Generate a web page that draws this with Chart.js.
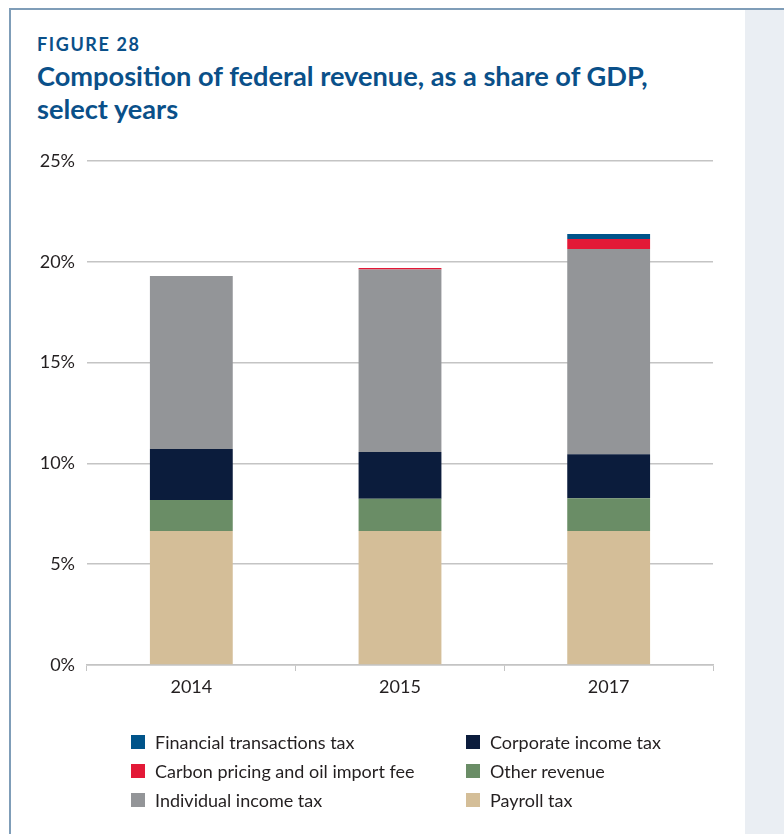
<!DOCTYPE html>
<html>
<head>
<meta charset="utf-8">
<script src="https://cdn.jsdelivr.net/npm/chart.js@4"></script>
<style>
  body { margin: 0; background: #fff; font-family: Lato, "Open Sans", sans-serif; }
  #page { position: relative; width: 784px; height: 834px; overflow: hidden; }
  #frame { position: absolute; left: 9px; top: 8px; right: 0; bottom: 0;
           border-top: 2px solid #7f9db8; border-left: 2px solid #7f9db8; }
  #side { position: absolute; left: 745px; top: 10px; width: 39px; bottom: 0; background: #eaeef3; }
  .fig { position: absolute; left: 37px; top: 33px; font-size: 18px; line-height: 22px;
         font-weight: 700; letter-spacing: 1.6px; color: #0a5089; }
  .title { position: absolute; left: 37px; top: 59px; font-size: 27.2px; line-height: 33px;
           font-weight: 700; color: #0a5089; }
  #chartjs { position: absolute; left: 0; top: 0; }
  #legend { position: absolute; left: 131px; top: 727px; display: grid;
            grid-template-columns: 335px auto; grid-auto-rows: 29px; }
  .item { display: flex; align-items: center; font-size: 18px; color: #231f20; }
  .box { width: 14px; height: 14px; margin-right: 10px; flex: none; }
</style>
</head>
<body>
<div id="page">
  <div id="frame"></div>
  <div id="side"></div>
  <div class="fig">FIGURE 28</div>
  <div class="title">Composition of federal revenue, as a share of GDP,<br>select years</div>
  <canvas id="chartjs" width="784" height="834"></canvas>
  <div id="legend"></div>
</div>
<script>
// percent of GDP by revenue source
var years = ["2014", "2015", "2017"];
var payrollTax = [6.65, 6.65, 6.65];
var otherRevenue = [1.54, 1.60, 1.62];
var corporateTax = [2.53, 2.32, 2.18];
var individualTax = [8.58, 9.05, 10.18];
var carbonFee = [0, 0.07, 0.50];
var financialTax = [0, 0, 0.25];
var yTicks = [0, 5, 10, 15, 20, 25];

// bottom of the stack first
var series = [
    { label: "Payroll tax", data: payrollTax, color: "#d4be98" },
    { label: "Other revenue", data: otherRevenue, color: "#6a8d66" },
    { label: "Corporate income tax", data: corporateTax, color: "#0b1c3c" },
    { label: "Individual income tax", data: individualTax, color: "#939598" },
    { label: "Carbon pricing and oil import fee", data: carbonFee, color: "#e31937" },
    { label: "Financial transactions tax", data: financialTax, color: "#00548a" }
];

// legend order, two columns
var legendOrder = [
    "Financial transactions tax", "Corporate income tax",
    "Carbon pricing and oil import fee", "Other revenue",
    "Individual income tax", "Payroll tax"
];

var ctx = document.getElementById("chartjs").getContext("2d");

var chartData = {
    labels: years,
    datasets: series.map(function (s) {
        return {
            label: s.label,
            data: s.data,
            backgroundColor: s.color,
            borderWidth: 0,
            categoryPercentage: 1,
            barPercentage: 0.397
        };
    })
};

var chartOptions = {
    responsive: false,
    animation: false,
    layout: {
        padding: { left: 0, right: 71, top: 161, bottom: 0 }
    },
    plugins: {
        legend: { display: false },
        tooltip: { enabled: false }
    },
    scales: {
        x: {
            stacked: true,
            grid: {
                offset: true,
                drawOnChartArea: false,
                drawTicks: true,
                tickLength: 6,
                color: "#c4c4c4",
                lineWidth: 1
            },
            border: { display: true, color: "#c4c4c4", width: 1.5 },
            ticks: {
                color: "#231f20",
                padding: 5,
                font: { family: "Lato", size: 18 }
            },
            afterFit: function (scale) { scale.height = 169; }
        },
        y: {
            stacked: true,
            min: 0,
            max: 25,
            afterBuildTicks: function (scale) {
                scale.ticks = yTicks.map(function (v) { return { value: v }; });
            },
            grid: {
                drawTicks: false,
                color: "#c4c4c4",
                lineWidth: 1.5
            },
            border: { display: false },
            ticks: {
                color: "#231f20",
                padding: 12,
                font: { family: "Lato", size: 18 },
                callback: function (v) { return v + "%"; }
            },
            afterFit: function (scale) { scale.width = 87; }
        }
    }
};

var myChart = new Chart(ctx, { type: "bar", data: chartData, options: chartOptions });

// html legend built from the datasets
var legend = document.getElementById("legend");
legendOrder.forEach(function (name) {
    var ds = chartData.datasets.find(function (d) { return d.label === name; });
    var item = document.createElement("div");
    item.className = "item";
    var box = document.createElement("span");
    box.className = "box";
    box.style.background = ds.backgroundColor;
    item.appendChild(box);
    item.appendChild(document.createTextNode(ds.label));
    legend.appendChild(item);
});
</script>
</body>
</html>
